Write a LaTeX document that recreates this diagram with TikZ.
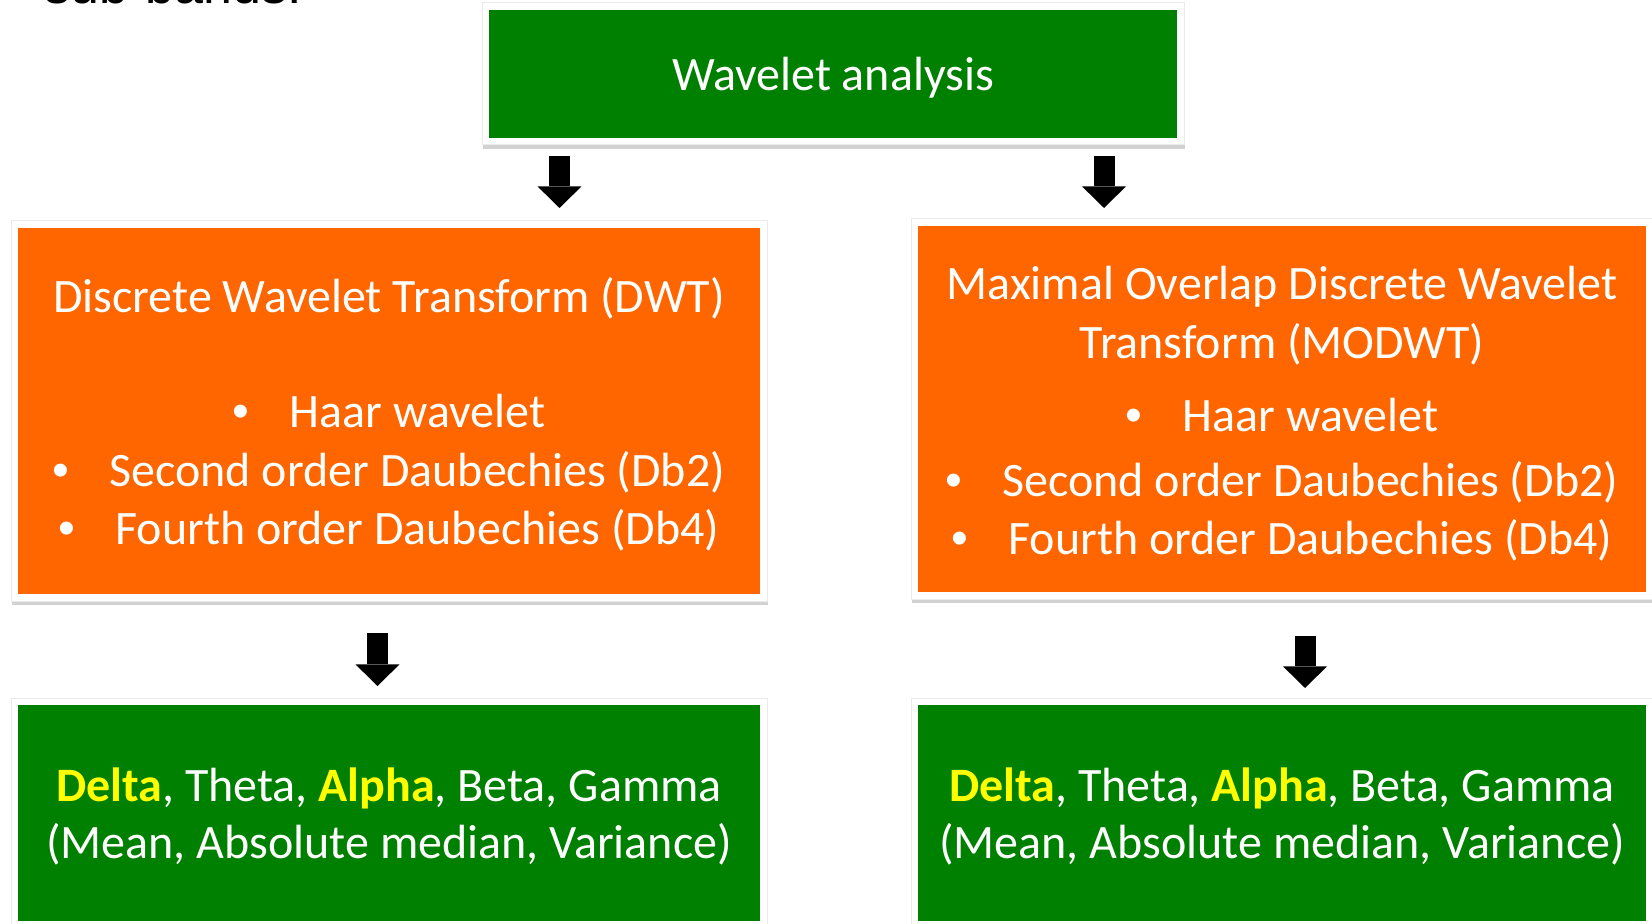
\documentclass[tikz,border=0pt]{standalone}
\usepackage{fontspec}
\setmainfont{Carlito}
\newfontfamily\arialfont{Liberation Sans}
\usetikzlibrary{arrows.meta,shadows}
\definecolor{boxgreen}{RGB}{0,128,0}
\definecolor{boxorange}{RGB}{255,102,0}
\definecolor{hiyellow}{RGB}{255,255,0}
\newcommand{\bul}{\hspace*{3.9pt}\makebox[0pt]{\arialfont\textbullet}\hspace*{24.5pt}}
\newcommand{\hlword}[1]{\textcolor{hiyellow}{\textbf{#1}}}
\tikzset{
  panel/.style={rectangle, inner sep=0pt, outer sep=0pt, fill=white, draw=black!8, line width=0.5pt,
    drop shadow={shadow xshift=0.6pt, shadow yshift=-2.2pt, opacity=0.25, fill=black!70}},
  panelfill/.style={fill=#1},
  txt/.style={anchor=base, text=white, inner sep=0pt, font=\fontsize{24pt}{29pt}\selectfont},
  blockarrow/.style={line width=10.5pt, -{Triangle[length=10.8pt, width=22pt, line width=0pt]}}
}
\begin{document}
\begin{tikzpicture}[x=0.5pt, y=-0.5pt]
\useasboundingbox (0,0) rectangle (1652,924);
\clip (0,0) rectangle (1652,924);
\fill[white] (0,0) rectangle (1652,924);

\node[anchor=base west, inner sep=0pt, font=\arialfont\fontsize{26pt}{30pt}\selectfont] (sb) at (44,4) {sub-bands.};

% boxes
\node[panel, minimum width=351pt, minimum height=71pt] (top) at (833,74) {};
\node[panel, minimum width=378pt, minimum height=190pt] (dwt) at (389,411) {};
\node[panel, minimum width=371pt, minimum height=190pt] (modwt) at (1282,409) {};
\node[panel, minimum width=378pt, minimum height=115pt] (bl) at (389,813) {};
\node[panel, minimum width=371pt, minimum height=115pt] (br) at (1282,813) {};

\fill[panelfill=boxgreen] ([shift={(3.5pt,-3.5pt)}]top.north west) rectangle ([shift={(-3.5pt,3.5pt)}]top.south east);
\fill[panelfill=boxorange] ([shift={(3.5pt,-3.5pt)}]dwt.north west) rectangle ([shift={(-3.5pt,3.5pt)}]dwt.south east);
\fill[panelfill=boxorange] ([shift={(3.5pt,-3.5pt)}]modwt.north west) rectangle ([shift={(-3.5pt,3.5pt)}]modwt.south east);
\fill[panelfill=boxgreen] ([shift={(3.5pt,-3.5pt)}]bl.north west) rectangle ([shift={(-3.5pt,3.5pt)}]bl.south east);
\fill[panelfill=boxgreen] ([shift={(3.5pt,-3.5pt)}]br.north west) rectangle ([shift={(-3.5pt,3.5pt)}]br.south east);

% texts
\node[txt] (t0) at (833,91) {Wavelet analysis};

\node[txt] (d0) at (389,313) {Discrete Wavelet Transform (DWT)};
\node[txt] (d1) at (389,428) {\bul Haar wavelet};
\node[txt] (d2) at (389,486) {\bul Second order Daubechies (Db2)};
\node[txt] (d3) at (389,544) {\bul Fourth order Daubechies (Db4)};

\node[txt] (m0) at (1282,300) {Maximal Overlap Discrete Wavelet};
\node[txt] (m1) at (1282,359) {Transform (MODWT)};
\node[txt] (m2) at (1282,431) {\bul Haar wavelet};
\node[txt] (m3) at (1282,496) {\bul Second order Daubechies (Db2)};
\node[txt] (m4) at (1282,554) {\bul Fourth order Daubechies (Db4)};

\node[txt] (b0) at (389,801) {\hlword{Delta}, Theta, \hlword{Alpha}, Beta, Gamma};
\node[txt] (b1) at (389,858) {(Mean, Absolute median, Variance)};
\node[txt] (r0) at (1282,801) {\hlword{Delta}, Theta, \hlword{Alpha}, Beta, Gamma};
\node[txt] (r1) at (1282,858) {(Mean, Absolute median, Variance)};

% arrows
\coordinate (ax1) at (559.5,0);
\coordinate (ax2) at (1104,0);
\coordinate (ax3) at (377.5,0);
\coordinate (ax4) at (1305,0);
\draw[blockarrow, shorten <=5.5pt, shorten >=6.5pt] (ax1 |- top.south) -- (ax1 |- dwt.north);
\draw[blockarrow, shorten <=5.5pt, shorten >=5.5pt] (ax2 |- top.south) -- (ax2 |- modwt.north);
\draw[blockarrow, shorten <=16pt, shorten >=6pt] (ax3 |- dwt.south) -- (ax3 |- bl.north);
\draw[blockarrow, shorten <=18.5pt, shorten >=5pt] (ax4 |- modwt.south) -- (ax4 |- br.north);
\end{tikzpicture}
\end{document}
